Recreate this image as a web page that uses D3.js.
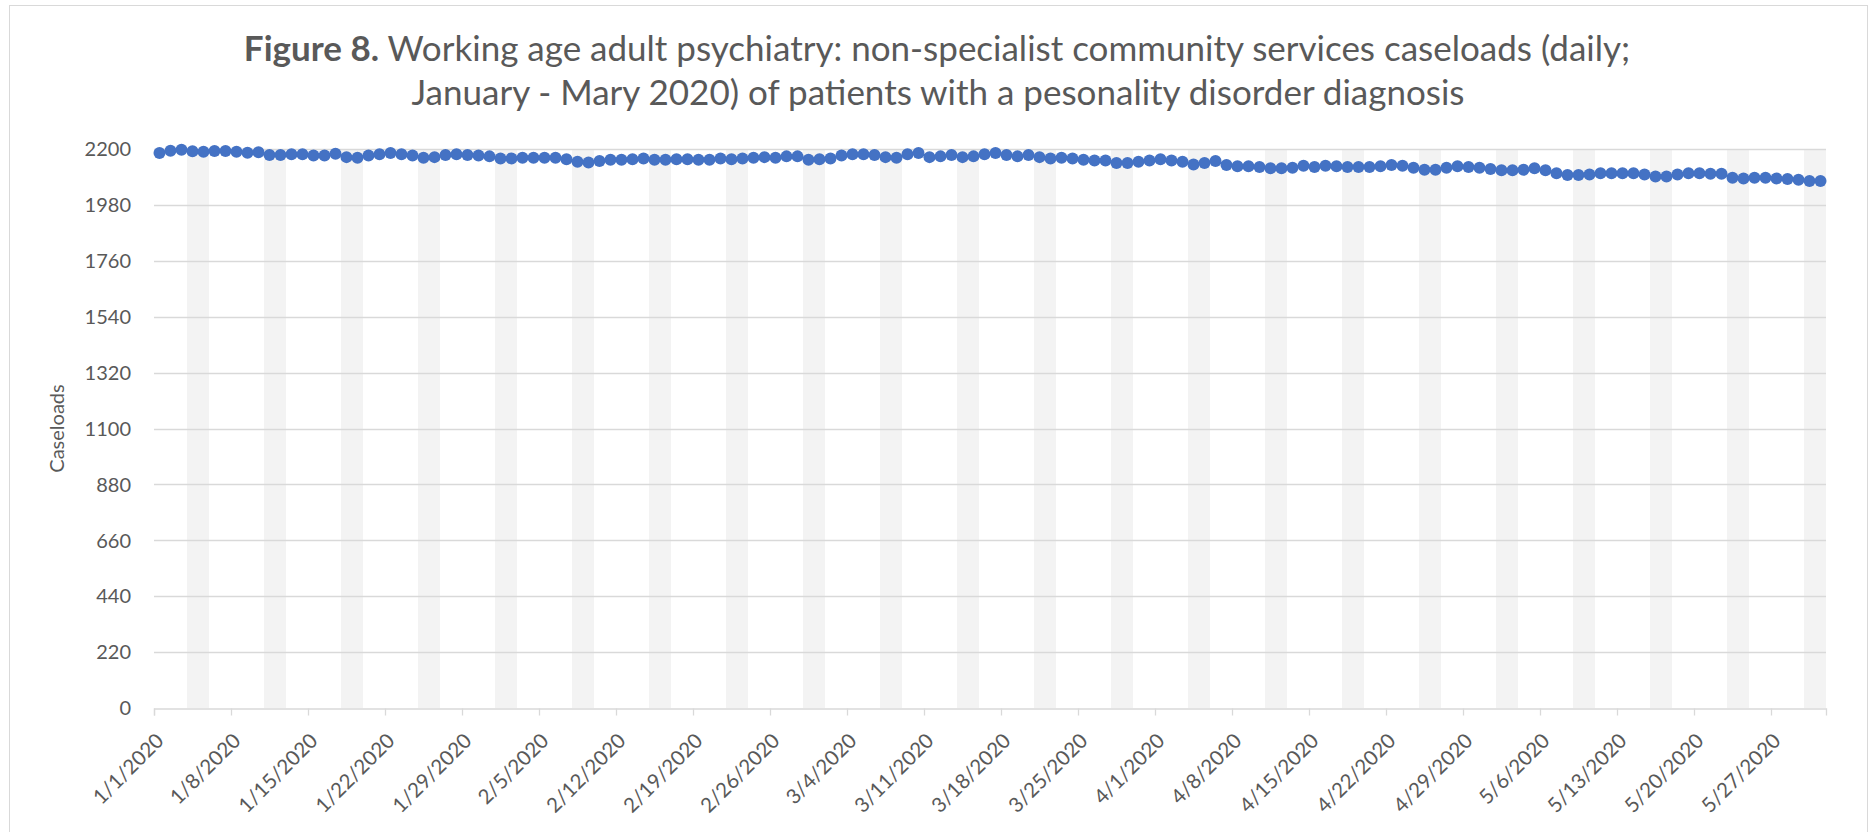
<html>
<head>
<meta charset="utf-8">
<script src="https://d3js.org/d3.v7.min.js"></script>
<style>
  body { margin: 0; background: #fff; }
  text { font-family: Lato, "Noto Sans", sans-serif; fill: #595959; }
</style>
</head>
<body>
<div id="chart"></div>
<script>
// daily caseloads, 1 Jan 2020 .. 31 May 2020
var startDay = "2020-01-01";
var caseloads = [
  2184, 2193, 2197, 2191, 2189, 2192, 2192, 2189, 2185, 2187,
  2176, 2176, 2179, 2179, 2174, 2174, 2181, 2168, 2166, 2174,
  2179, 2184, 2179, 2174, 2166, 2168, 2176, 2179, 2176, 2174,
  2171, 2163, 2163, 2166, 2166, 2166, 2166, 2160, 2150, 2147,
  2153, 2158, 2158, 2160, 2163, 2158, 2158, 2160, 2160, 2158,
  2158, 2163, 2160, 2163, 2166, 2168, 2166, 2171, 2171, 2158,
  2160, 2163, 2174, 2179, 2179, 2176, 2168, 2166, 2179, 2184,
  2168, 2171, 2176, 2168, 2171, 2179, 2184, 2176, 2171, 2176,
  2168, 2163, 2166, 2163, 2158, 2155, 2155, 2145, 2145, 2150,
  2155, 2160, 2155, 2150, 2139, 2145, 2153, 2137, 2132, 2132,
  2129, 2124, 2124, 2126, 2134, 2129, 2134, 2132, 2129, 2129,
  2129, 2132, 2137, 2134, 2126, 2118, 2118, 2126, 2132, 2129,
  2126, 2121, 2116, 2116, 2118, 2124, 2116, 2105, 2098, 2098,
  2100, 2105, 2105, 2105, 2105, 2100, 2092, 2092, 2100, 2105,
  2105, 2103, 2103, 2087, 2084, 2087, 2087, 2084, 2082, 2079,
  2074, 2074
];
var yTicks = [0, 220, 440, 660, 880, 1100, 1320, 1540, 1760, 1980, 2200];
var titleBold = "Figure 8.";
var titleRest = " Working age adult psychiatry: non-specialist community services caseloads (daily;";
var titleLine2 = "January - Mary 2020) of patients with a pesonality disorder diagnosis";
var yLabel = "Caseloads";

var W = 1870, H = 832;
var plotLeft = 154, plotRight = 1826, plotTop = 149, plotBottom = 708;

var start = d3.utcParse("%Y-%m-%d")(startDay);
var days = caseloads.map(function(v, i) { return d3.utcDay.offset(start, i); });
var end = d3.utcDay.offset(start, caseloads.length);

var svg = d3.select("#chart").append("svg")
  .attr("width", W).attr("height", H);

// chart frame
svg.append("rect")
  .attr("x", 9.5).attr("y", 5.5)
  .attr("width", 1858).attr("height", 840)
  .attr("fill", "#fff").attr("stroke", "#d9d9d9");

var x = d3.scaleUtc().domain([start, end]).range([plotLeft, plotRight]);
var y = d3.scaleLinear().domain([0, 2200]).range([plotBottom, plotTop]);

// weekend shading (Sat + Sun)
var weekends = days.filter(function(d) { return d.getUTCDay() === 6; });
svg.append("g").selectAll("rect")
  .data(weekends)
  .enter().append("rect")
    .attr("x", function(d) { return x(d); })
    .attr("y", y(2200))
    .attr("width", function(d) { return x(d3.utcDay.offset(d, 2)) - x(d); })
    .attr("height", y(0) - y(2200))
    .attr("fill", "#f3f3f3");

// gridlines
svg.append("g").selectAll("line")
  .data(yTicks.slice(1))
  .enter().append("line")
    .attr("x1", plotLeft).attr("x2", plotRight)
    .attr("y1", function(d) { return Math.round(y(d)) + 0.5; })
    .attr("y2", function(d) { return Math.round(y(d)) + 0.5; })
    .attr("stroke", "#d9d9d9").attr("stroke-width", 1.3);

// y labels
svg.append("g").selectAll("text")
  .data(yTicks)
  .enter().append("text")
    .attr("x", 131)
    .attr("y", function(d) { return y(d); })
    .attr("dy", "0.36em")
    .attr("text-anchor", "end")
    .style("font-size", "20px")
    .text(function(d) { return d; });

// x axis, a tick each week
var weekTicks = d3.utcDay.range(start, end, 7);
var xAxis = d3.axisBottom(x)
  .tickValues(weekTicks)
  .tickSize(7)
  .tickFormat("");
var gx = svg.append("g")
  .attr("transform", "translate(0," + (Math.round(y(0)) + 0.5) + ")")
  .call(xAxis);
gx.select(".domain").attr("stroke", "#d9d9d9").attr("stroke-width", 1.3);
gx.selectAll(".tick line").attr("stroke", "#d9d9d9").attr("stroke-width", 1.3);

var fmt = d3.utcFormat("%-m/%-d/%Y");
svg.append("g").selectAll("text")
  .data(weekTicks)
  .enter().append("text")
    .attr("transform", function(d) { return "translate(" + (x(d) + 11) + "," + 742 + ") rotate(-45)"; })
    .attr("text-anchor", "end")
    .style("font-size", "20.5px")
    .text(function(d) { return fmt(d); });

// series: line + markers, centred on each day
var line = d3.line()
  .x(function(d, i) { return x(d3.utcHour.offset(days[i], 12)); })
  .y(function(d) { return y(d); });
svg.append("path")
  .datum(caseloads)
  .attr("d", line)
  .attr("fill", "none")
  .attr("stroke", "#4472c4")
  .attr("stroke-width", 2.5);

svg.append("g").selectAll("circle")
  .data(caseloads)
  .enter().append("circle")
    .attr("cx", function(d, i) { return x(d3.utcHour.offset(days[i], 12)); })
    .attr("cy", function(d) { return y(d); })
    .attr("r", 6)
    .attr("fill", "#4472c4");

// axis title
svg.append("text")
  .attr("transform", "translate(57," + ((plotTop + plotBottom) / 2) + ") rotate(-90)")
  .attr("text-anchor", "middle")
  .attr("dy", "0.35em")
  .style("font-size", "20px")
  .text(yLabel);

// title
var t1 = svg.append("text")
  .attr("x", 937).attr("y", 61)
  .attr("text-anchor", "middle")
  .style("font-size", "35px");
t1.append("tspan").style("font-weight", "bold").text(titleBold);
t1.append("tspan").text(titleRest);
svg.append("text")
  .attr("x", 938).attr("y", 105)
  .attr("text-anchor", "middle")
  .style("font-size", "35px")
  .text(titleLine2);
</script>
</body>
</html>
